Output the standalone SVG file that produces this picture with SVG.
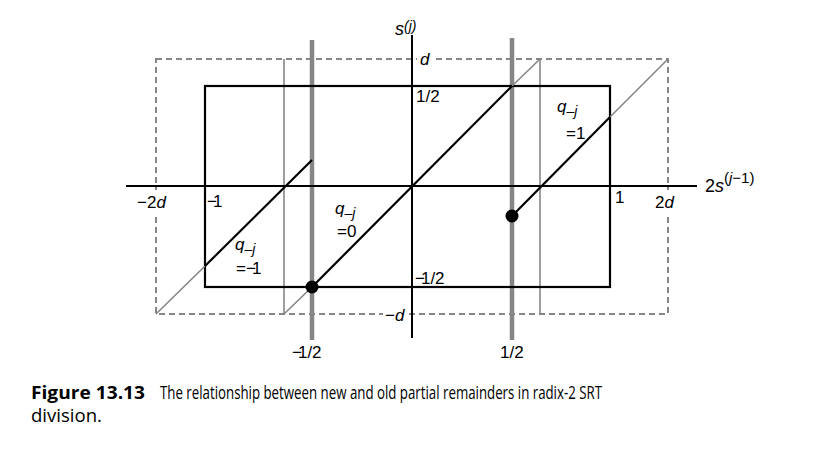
<svg xmlns="http://www.w3.org/2000/svg" width="821" height="450" viewBox="0 0 821 450">
<style>
.ax{stroke:#000;stroke-width:2;fill:none}
.blk{stroke:#000;stroke-width:2.2;fill:none}
.thin{stroke:#868686;stroke-width:1.6;fill:none}
.thick{stroke:#868686;stroke-width:4.5;fill:none}
.dash{stroke:#868686;stroke-width:2;fill:none;stroke-dasharray:6 4}
.t{font-family:"Liberation Sans",Arial,sans-serif;font-size:17px;fill:#000}
.i{font-style:italic}
.cap{font-family:"Open Sans","Noto Sans",sans-serif;font-size:18px;fill:#000}
</style>
<rect width="821" height="450" fill="#fff"/>
<g id="outer-region">
<rect class="dash" x="156" y="59" width="512" height="255"/>
</g>
<g id="thin-guides">
<line class="thin" x1="284" y1="59" x2="284" y2="314"/>
<line class="thin" x1="540" y1="59" x2="540" y2="314"/>
</g>
<g id="thick-guides">
<line class="thick" x1="312" y1="40" x2="312" y2="340"/>
<line class="thick" x1="512" y1="38" x2="512" y2="340"/>
</g>
<g id="inner-region">
<rect class="blk" x="205" y="86" width="405" height="201"/>
</g>
<g id="axes">
<line class="ax" x1="126" y1="186" x2="697" y2="186"/>
<line class="ax" x1="412" y1="35" x2="412" y2="338"/>
</g>
<g id="connectors">
<line class="thin" x1="156" y1="314" x2="205" y2="266"/>
<line class="thin" x1="284" y1="314" x2="312" y2="287"/>
<line class="thin" x1="512" y1="86" x2="540" y2="59"/>
<line class="thin" x1="610" y1="117" x2="668" y2="59"/>
<line class="blk" x1="205" y1="266" x2="312" y2="160"/>
<line class="blk" x1="312" y1="287" x2="512" y2="86"/>
<line class="blk" x1="512" y1="216" x2="610" y2="117"/>
</g>
<g id="dots">
<circle cx="312" cy="287" r="6.5" fill="#000"/>
<circle cx="512" cy="216" r="6.5" fill="#000"/>
</g>
<g id="label-backgrounds" fill="#fff">
<rect x="417" y="51" width="16" height="16"/>
<rect x="383" y="308" width="25" height="15"/>
<rect x="136" y="190" width="38" height="24"/>
<rect x="654" y="190" width="30" height="24"/>
</g>
<g id="labels" class="t">
<text x="395" y="35"><tspan class="i" font-size="18">s</tspan><tspan class="i" font-size="14" dy="-4">(j)</tspan></text>
<text x="420" y="65" class="i">d</text>
<text x="416" y="102">1/2</text>
<text x="137" y="208">−2<tspan class="i">d</tspan></text>
<text x="207" y="207" letter-spacing="-4">−1</text>
<text x="615" y="203">1</text>
<text x="655" y="208">2<tspan class="i">d</tspan></text>
<text x="705" y="192" font-size="18">2<tspan class="i">s</tspan><tspan font-size="15" dy="-9">(<tspan class="i">j</tspan>−1)</tspan></text>
<text x="557" y="112"><tspan class="i">q</tspan><tspan font-size="14" dy="4">–<tspan class="i">j</tspan></tspan></text>
<text x="566" y="139">=1</text>
<text x="335" y="214"><tspan class="i">q</tspan><tspan font-size="14" dy="4">–<tspan class="i">j</tspan></tspan></text>
<text x="337" y="237">=0</text>
<text x="235" y="250"><tspan class="i">q</tspan><tspan font-size="14" dy="4">–<tspan class="i">j</tspan></tspan></text>
<text x="236" y="274">=<tspan letter-spacing="-4">−</tspan>1</text>
<text x="415" y="284"><tspan letter-spacing="-4">−</tspan>1/2</text>
<text x="385" y="321">−<tspan class="i">d</tspan></text>
<text x="292" y="358"><tspan letter-spacing="-4">−</tspan>1/2</text>
<text x="500" y="358">1/2</text>
</g>
<g id="caption">
<text class="cap" x="31" y="399" font-weight="bold" textLength="114" lengthAdjust="spacingAndGlyphs">Figure 13.13</text>
<text class="cap" x="160" y="399" textLength="442" lengthAdjust="spacingAndGlyphs">The relationship between new and old partial remainders in radix-2 SRT</text>
<text class="cap" x="31" y="422" textLength="71" lengthAdjust="spacingAndGlyphs">division.</text>
</g>
</svg>
